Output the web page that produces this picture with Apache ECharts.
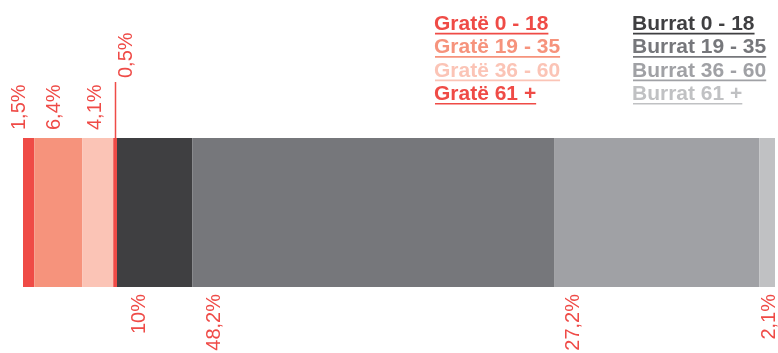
<!DOCTYPE html>
<html>
<head>
<meta charset="utf-8">
<script src="https://cdn.jsdelivr.net/npm/echarts@6/dist/echarts.min.js"></script>
<style>
html, body { margin: 0; padding: 0; background: #fff; }
#chart { width: 778px; height: 353px; }
</style>
</head>
<body>
<div id="chart"></div>
<script>
// age groups, women first then men, share of the total in %
const groups = ['0 - 18', '19 - 35', '36 - 60', '61 +'];
const womenShares = [1.5, 6.4, 4.1, 0.5];
const menShares = [10, 48.2, 27.2, 2.1];

const womenColors = ['#ef4b46', '#f6937c', '#fbc4b6', '#ef4b46'];
const menColors = ['#3f3f41', '#76777b', '#a0a1a5', '#c0c1c3'];
const labelColor = '#ef4b47';
const font = '"Liberation Sans", Arial, Helvetica, sans-serif';

// horizontal nudge of each percent label, px from the segment centre
const womenLabelShift = [-9, -4, -2, 11];
const womenLabelDistance = [8, 8, 8, 60];
const menLabelShift = [-15, -159, -83, 2];

function pct(v) {
    return String(v).replace('.', ',') + '%';
}

function makeSeries(prefix, shares, colors, above, shifts, distances) {
    return shares.map((v, i) => ({
        name: prefix + groups[i],
        type: 'bar',
        stack: 'total',
        barWidth: '100%',
        data: [v],
        itemStyle: { color: colors[i] },
        emphasis: { disabled: true },
        label: {
            show: true,
            position: above ? 'top' : 'bottom',
            rotate: 90,
            align: above ? 'left' : 'right',
            verticalAlign: 'middle',
            distance: distances ? distances[i] : 7,
            offset: [0, shifts[i]],
            formatter: p => pct(p.value),
            color: labelColor,
            fontSize: 20,
            fontFamily: font
        }
    }));
}

const series = [].concat(
    makeSeries('Gratë ', womenShares, womenColors, true, womenLabelShift, womenLabelDistance),
    makeSeries('Burrat ', menShares, menColors, false, menLabelShift, null)
);

// legend drawn by hand so each entry can be underlined
const legendFont = 'bold 21px ' + font;
const ctx = document.createElement('canvas').getContext('2d');
ctx.font = legendFont;

function legendColumn(prefix, colors, x) {
    const items = [];
    groups.forEach((g, i) => {
        const text = prefix + g;
        const y = 24.2 + i * 23.4;
        const w = ctx.measureText(text).width;
        items.push({
            type: 'text',
            x: x,
            y: y,
            style: { text: text, font: legendFont, fill: colors[i], verticalAlign: 'middle', align: 'left' }
        });
        items.push({
            type: 'rect',
            shape: { x: x + 1, y: y + 8.5, width: w - 1, height: 1.7 },
            style: { fill: colors[i] }
        });
    });
    return items;
}

const chart = echarts.init(document.getElementById('chart'));
chart.setOption({
    animation: false,
    grid: { left: 23, right: 3, top: 138, height: 149 },
    xAxis: { type: 'value', min: 0, max: 100, show: false },
    yAxis: { type: 'category', data: ['Total'], show: false },
    series: series
});

// guide line for the thin 0,5% segment
const thinCentre = womenShares.slice(0, 3).reduce((a, b) => a + b, 0) + womenShares[3] / 2;
const lineX = Math.round(chart.convertToPixel({ xAxisIndex: 0 }, thinCentre)) + 0.5;
chart.setOption({
    graphic: legendColumn('Gratë ', womenColors, 434)
        .concat(legendColumn('Burrat ', menColors, 632))
        .concat([{
            type: 'line',
            shape: { x1: lineX, y1: 82, x2: lineX, y2: 138 },
            style: { stroke: labelColor, lineWidth: 1.5 }
        }])
});
</script>
</body>
</html>
